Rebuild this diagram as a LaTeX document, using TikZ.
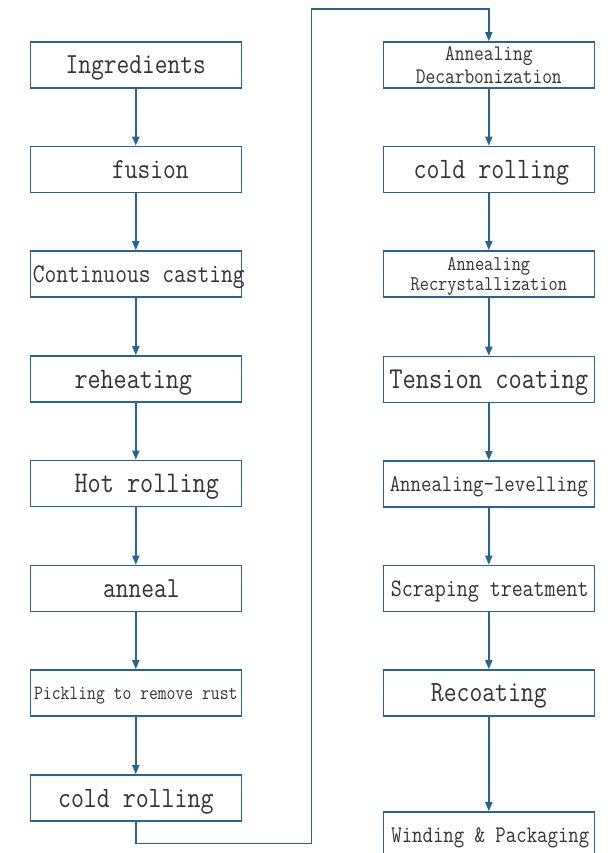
\documentclass[tikz,border=0pt]{standalone}
\usepackage{fontspec}
\newfontfamily\boxfont[FakeStretch=0.85]{Latin Modern Mono}
\usetikzlibrary{arrows.meta}
\definecolor{linec}{RGB}{38,100,150}
\definecolor{textc}{RGB}{55,50,50}
\newcommand{\fs}[1]{\fontsize{#1}{#1}\selectfont}
\tikzset{
  x=1pt, y=-1pt,
  box/.style={draw=linec, line width=1.6pt, fill=white, minimum width=211pt, minimum height=46pt,
    inner sep=0pt, align=center, text=textc, font=\boxfont, text depth=0pt},
  arr/.style={draw=linec, line width=1.6pt, -{Triangle[width=7pt,length=9pt]}}
}
\begin{document}
\begin{tikzpicture}
\useasboundingbox (0,0) rectangle (610,853);
\clip (0,0) rectangle (610,853);
\fill[white] (0,0) rectangle (610,853);
% left column
\node[box] (n1) at (135.8,65) {\fs{29.1}Ingredients};
\node[box] (n2) at (135.8,169.5) {\fs{29.1}\hspace*{29pt}fusion};
\node[box] (n3) at (135.8,274) {\makebox[211pt]{\fs{26.9}\hspace*{6pt}Continuous casting}};
\node[box] (n4) at (135.8,379) {\fs{29.8}\hspace*{-5pt}reheating};
\node[box] (n5) at (135.8,483.5) {\fs{30}\hspace*{22pt}Hot rolling};
\node[box] (n6) at (135.8,588.5) {\fs{29.1}\hspace*{11pt}anneal};
\node[box] (n7) at (135.8,693) {\fs{20.2}Pickling to remove rust};
\node[box] (n8) at (135.8,798) {\fs{29.6}cold rolling};
% right column
\node[box, font={\boxfont\fontsize{22.2}{22.7}\selectfont}] (m1) at (488.8,65) {Annealing\\Decarbonization};
\node[box] (m2) at (488.8,169.5) {\fs{29.6}\hspace*{5pt}cold rolling};
\node[box, font={\boxfont\fontsize{21}{20}\selectfont}] (m3) at (488.8,274) {Annealing\\Recrystallization};
\node[box] (m4) at (488.8,379.5) {\fs{30.3}Tension coating};
\node[box] (m5) at (488.8,484) {\fs{23.8}Annealing-levelling};
\node[box] (m6) at (488.8,588.5) {\fs{25.1}\hspace*{2pt}Scraping treatment};
\node[box] (m7) at (488.8,693) {\fs{29.4}Recoating};
\node[box] (m8) at (488.8,835) {\fs{23.8}\hspace*{3pt}Winding \& Packaging};
% connectors
\foreach \a/\b in {n1/n2,n2/n3,n3/n4,n4/n5,n5/n6,n6/n7,n7/n8,m1/m2,m2/m3,m3/m4,m4/m5,m5/m6,m6/m7,m7/m8}
  \draw[arr] (\a.south) -- (\b.north);
\coordinate (c1) at (311.3,843.3);
\coordinate (c2) at (311.3,9.3);
\draw[arr] (n8.south) |- (c1) -- (c2) -| (m1.north);
\end{tikzpicture}
\end{document}
